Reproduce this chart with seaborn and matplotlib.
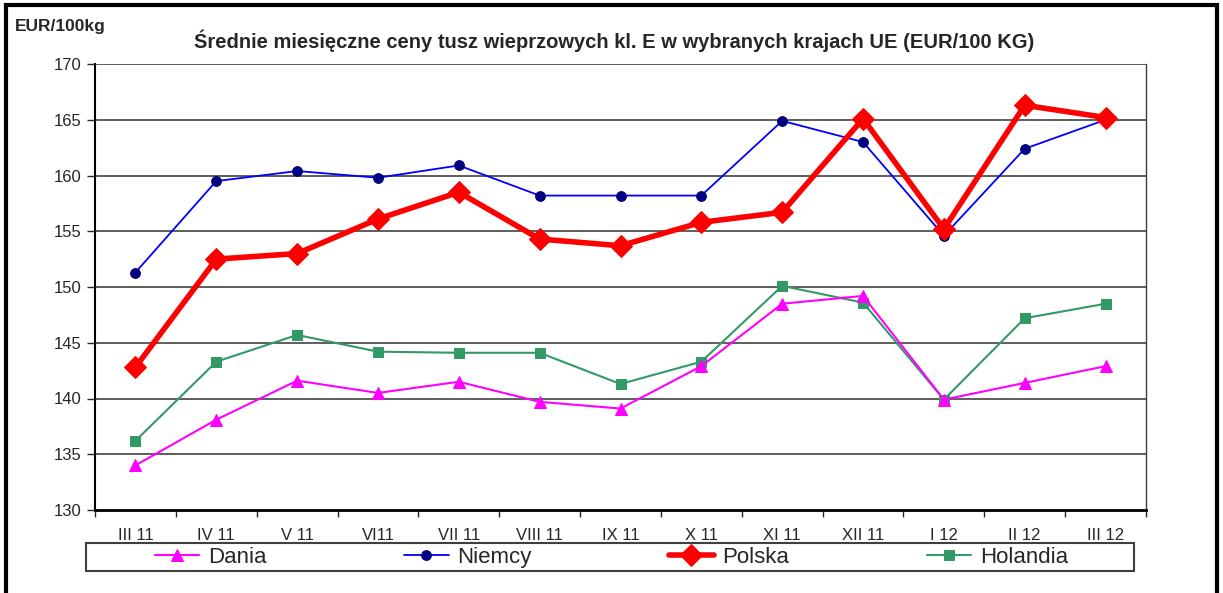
import numpy as np
import pandas as pd
import matplotlib
matplotlib.use("Agg")
import matplotlib.pyplot as plt
from matplotlib.patches import Rectangle
import seaborn as sns

# data
months = ["III 11", "IV 11", "V 11", "VI11", "VII 11", "VIII 11", "IX 11",
          "X 11", "XI 11", "XII 11", "I 12", "II 12", "III 12"]
dania = [134.0, 138.1, 141.6, 140.5, 141.5, 139.7, 139.1, 142.9, 148.5, 149.2, 139.9, 141.4, 142.9]
niemcy = [151.3, 159.5, 160.4, 159.8, 160.9, 158.2, 158.2, 158.2, 164.9, 163.0, 154.6, 162.4, 165.0]
polska = [142.8, 152.5, 153.0, 156.1, 158.5, 154.3, 153.7, 155.8, 156.7, 165.1, 155.2, 166.3, 165.2]
holandia = [136.2, 143.3, 145.7, 144.2, 144.1, 144.1, 141.3, 143.3, 150.1, 148.6, 139.9, 147.2, 148.5]

sns.set_style("white")
plt.rcParams["font.family"] = ["Liberation Sans", "DejaVu Sans"]

W, H = 1223, 593
fig = plt.figure(figsize=(W / 100, H / 100), dpi=100)
ax = fig.add_axes([95 / W, 1 - 510 / H, (1146 - 95) / W, (510 - 64) / H])

x = np.arange(len(months))
df = pd.DataFrame({"x": x, "Dania": dania, "Niemcy": niemcy,
                   "Polska": polska, "Holandia": holandia})

# horizontal grid first so lines sit on top
for v in range(135, 171, 5):
    ax.axhline(v, color="#505050", lw=1.3, zorder=0)

sns.lineplot(data=df, x="x", y="Holandia", ax=ax, color="#339966", lw=1.5,
             marker="s", markersize=7, markeredgecolor="#339966", label="Holandia")
sns.lineplot(data=df, x="x", y="Dania", ax=ax, color="#FF00FF", lw=1.5,
             marker="^", markersize=8, markeredgecolor="#FF00FF", label="Dania")
sns.lineplot(data=df, x="x", y="Niemcy", ax=ax, color="#0000FF", lw=1.3,
             marker="o", markersize=7, markerfacecolor="#000080",
             markeredgecolor="#000080", label="Niemcy")
sns.lineplot(data=df, x="x", y="Polska", ax=ax, color="#FF0000", lw=4,
             marker="D", markersize=11, markeredgecolor="#FF0000", label="Polska")

ax.set_xlim(-0.5, len(months) - 0.5)
ax.set_ylim(130, 170)
ax.set_yticks(range(130, 171, 5))
ax.tick_params(axis="y", labelsize=12, length=6, width=1, left=True, pad=4)

# category boundaries get the tick marks, labels sit in between
ax.set_xticks(np.arange(-0.5, len(months), 1.0))
ax.set_xticklabels([])
ax.set_xticks(x, minor=True)
ax.set_xticklabels(months, minor=True, fontsize=12)
ax.tick_params(axis="x", which="major", length=5, width=1, bottom=True, direction="out")
ax.tick_params(axis="x", which="minor", length=0, pad=13)
ax.set_xlabel("")
ax.set_ylabel("")

ax.spines["left"].set_color("black")
ax.spines["left"].set_linewidth(1.5)
ax.spines["bottom"].set_color("black")
ax.spines["bottom"].set_linewidth(2)
ax.spines["right"].set_color("#404040")
ax.spines["right"].set_linewidth(1)
ax.spines["top"].set_visible(False)

# legend below, in a box
handles, labels = ax.get_legend_handles_labels()
order = ["Dania", "Niemcy", "Polska", "Holandia"]
hmap = dict(zip(labels, handles))
ax.get_legend().remove()
fig.legend([hmap[k] for k in order], order, ncol=4, mode="expand",
           loc="center left", frameon=False, fontsize=16,
           bbox_to_anchor=(155 / W, 1 - 572 / H, (1068 - 155) / W, 29 / H),
           borderaxespad=0, borderpad=0, handlelength=2.0, handletextpad=0.4)
fig.patches.append(Rectangle((86 / W, 1 - 571 / H), (1134 - 86) / W, 28 / H,
                             transform=fig.transFigure, fill=False,
                             edgecolor="#404040", lw=1.5))

# outer frame
fig.patches.append(Rectangle((6 / W, -0.05), (1217 - 6) / W, 1.05 - 5 / H,
                             transform=fig.transFigure, fill=False,
                             edgecolor="black", lw=3, clip_on=False))

fig.text(614 / W, 1 - 41 / H,
         "Średnie miesięczne ceny tusz wieprzowych kl. E w wybranych krajach UE (EUR/100 KG)",
         ha="center", va="center", fontsize=14.5, fontweight="bold")
fig.text(15 / W, 1 - 27 / H, "EUR/100kg", ha="left", va="center",
         fontsize=12.5, fontweight="bold")

fig.savefig("out.png", dpi=100)
